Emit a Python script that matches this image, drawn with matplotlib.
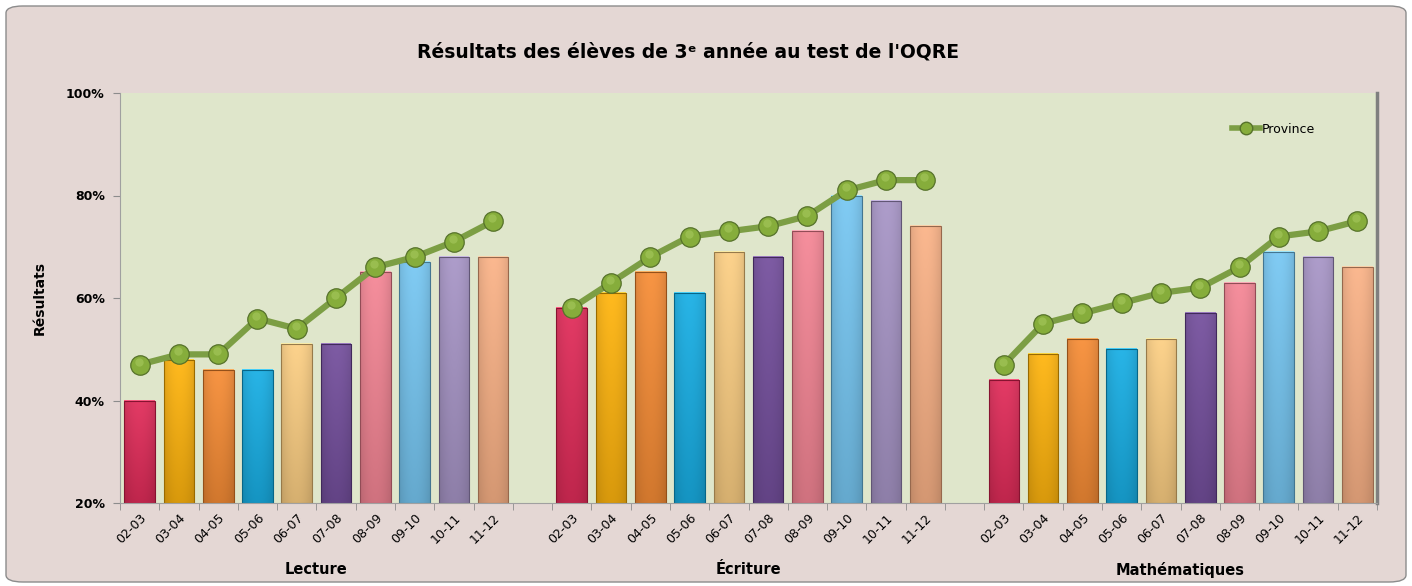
import numpy as np
import matplotlib
matplotlib.use("Agg")
import matplotlib.pyplot as plt
from matplotlib.patches import FancyBboxPatch
from matplotlib.colors import to_rgb
from matplotlib.lines import Line2D

years = ["02-03", "03-04", "04-05", "05-06", "06-07", "07-08", "08-09", "09-10", "10-11", "11-12"]
subjects = ["Lecture", "Écriture", "Mathématiques"]
school_lecture = [40, 48, 46, 46, 51, 51, 65, 67, 68, 68]
school_ecriture = [58, 61, 65, 61, 69, 68, 73, 80, 79, 74]
school_math = [44, 49, 52, 50, 52, 57, 63, 69, 68, 66]
province_lecture = [47, 49, 49, 56, 54, 60, 66, 68, 71, 75]
province_ecriture = [58, 63, 68, 72, 73, 74, 76, 81, 83, 83]
province_math = [47, 55, 57, 59, 61, 62, 66, 72, 73, 75]
bar_colors = ["#DF2050", "#FFB000", "#F6862A", "#0BAAE3", "#FCCC7C",
              "#6C4597", "#F47F8F", "#6FC4F2", "#A28FC3", "#FAAE80"]

school = [school_lecture, school_ecriture, school_math]
province = [province_lecture, province_ecriture, province_math]

W, H = 1412, 586
fig = plt.figure(figsize=(W / 100, H / 100), dpi=100)
fig.patch.set_facecolor("white")
bg = FancyBboxPatch((6 / W, 4 / H), (W - 12) / W, (H - 10) / H,
                    boxstyle="round,pad=0,rounding_size=0.012",
                    transform=fig.transFigure, facecolor="#E4D7D4",
                    edgecolor="#8C8C8C", linewidth=1.0, zorder=-10)
fig.patches.append(bg)

ax = fig.add_axes([120 / W, 1 - 503 / H, (1377 - 120) / W, (503 - 93) / H])
ax.set_zorder(1)
ax.set_facecolor("#DFE6CB")

n = len(years)
group_step = n + 1
all_x, all_labels = [], []
for g in range(len(subjects)):
    xs = np.arange(n) + g * group_step
    vals = school[g]
    bars = ax.bar(xs, vals, width=0.78, bottom=0, color=bar_colors,
                  edgecolor="none", zorder=2)
    for b, c in zip(bars, bar_colors):
        base = np.array(to_rgb(c))
        dark = base * 0.75
        light = np.clip(base + (1 - base) * 0.12, 0, 1)
        ny, nx = 60, 20
        tv = np.linspace(0, 1, ny)[:, None, None]
        hx = np.linspace(-1, 1, nx)[None, :, None]
        col = dark + (light - dark) * (0.4 + 0.6 * tv)
        col = col * (1 - 0.1 * hx ** 2)
        img = np.clip(col, 0, 1)
        x0, y0 = b.get_x(), 20
        x1, y1 = b.get_x() + b.get_width(), b.get_height()
        im = ax.imshow(img, extent=[x0, x1, y0, y1], origin="lower",
                       aspect="auto", zorder=2.1, interpolation="bilinear")
        im.set_clip_path(b)
        ax.plot([x0, x1], [y1, y1], color=np.clip(light + 0.12, 0, 1),
                lw=1.4, zorder=2.2, solid_capstyle="butt")
        ax.add_patch(plt.Rectangle((x0, y0), x1 - x0, y1 - y0, fill=False,
                                   edgecolor=tuple(base * 0.6), lw=0.8,
                                   zorder=2.3))
    ax.plot(xs, province[g], color="#7C9E44", lw=4.5, zorder=3,
            marker="o", markersize=14, markerfacecolor="#86AD3B",
            markeredgecolor="#56722A", markeredgewidth=0.9,
            solid_capstyle="round")
    ax.plot(xs, province[g], linestyle="none", zorder=3.1, marker="o",
            markersize=6, markerfacecolor="#A6C95E", markeredgecolor="none",
            alpha=0.6, transform=ax.transData + matplotlib.transforms.ScaledTranslation(
                -1 / 100, 3 / 100, fig.dpi_scale_trans))
    all_x += list(xs)
    all_labels += years
    ax.text(np.mean(xs), -0.163, subjects[g], transform=ax.get_xaxis_transform(),
            ha="center", va="center", fontsize=10.5, fontweight="heavy",
            color="black")

ax.set_xlim(-0.5, len(subjects) * group_step - 1 - 0.5)
ax.set_ylim(20, 100)
ax.set_yticks([20, 40, 60, 80, 100])
ax.set_yticklabels([f"{v}%" for v in [20, 40, 60, 80, 100]],
                   fontsize=9, fontweight="bold")
ax.set_xticks(all_x)
ax.set_xticklabels(all_labels, rotation=45, ha="right", rotation_mode="anchor",
                   fontsize=9)
ax.tick_params(axis="x", length=0, pad=6)
ax.set_xticks(np.arange(-0.5, len(subjects) * group_step - 1, 1.0), minor=True)
ax.tick_params(axis="x", which="minor", length=5, color="#8C8C8C")
ax.tick_params(axis="y", length=5, color="#8C8C8C", pad=6)
ax.spines["top"].set_visible(False)
ax.spines["right"].set_color("#7F7F7F")
ax.spines["right"].set_linewidth(2.5)
ax.spines["left"].set_color("#A0A0A0")
ax.spines["bottom"].set_color("#A0A0A0")

ax.set_ylabel("Résultats", fontsize=10, fontweight="bold", labelpad=14)

fig.text(688 / W, 1 - 52 / H,
         "Résultats des élèves de 3ᵉ année au test de l'OQRE",
         ha="center", va="center", fontsize=13.5, fontweight="bold")

handle = Line2D([], [], color="#7C9E44", lw=4, marker="o", markersize=9,
                markerfacecolor="#86AD3B", markeredgecolor="#56722A")
leg = ax.legend([handle], ["Province"], loc="upper right",
                bbox_to_anchor=(0.96, 0.955), frameon=False, fontsize=9,
                handlelength=2.2, handletextpad=0.2)

fig.savefig("out.png", dpi=100, facecolor=fig.get_facecolor())
